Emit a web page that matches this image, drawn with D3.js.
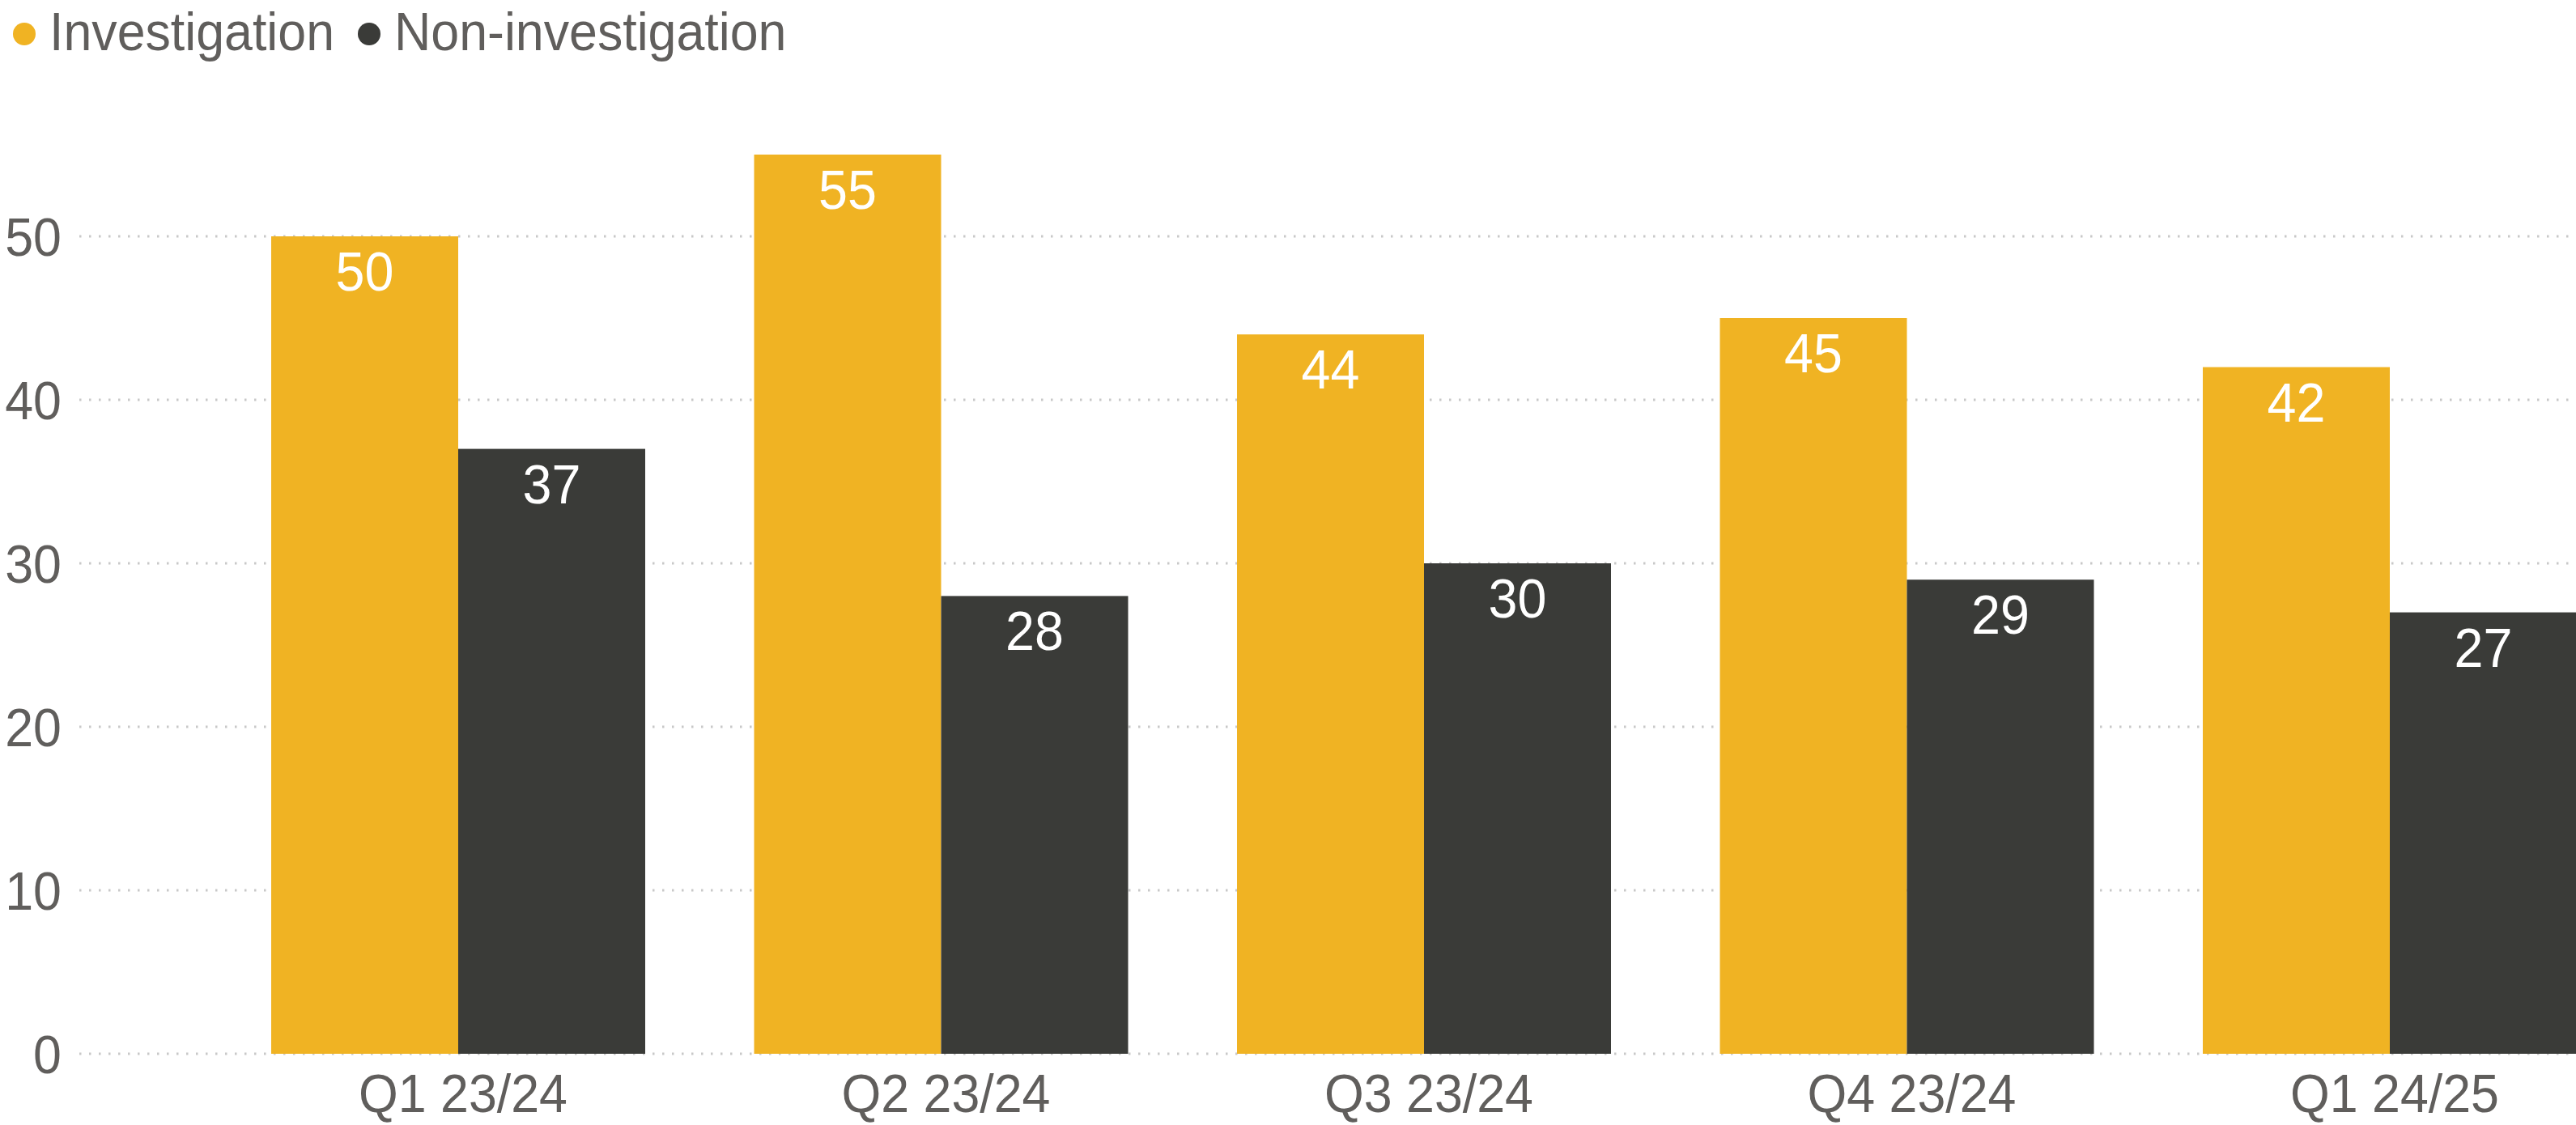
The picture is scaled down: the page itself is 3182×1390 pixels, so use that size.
<!doctype html>
<html lang="en">
<head>
  <meta charset="UTF-8">
  <title>Investigation vs Non-investigation</title>
  <style>
    body { margin: 0; background: #fff; }
    svg { display: block; font-family: "Liberation Sans", Arial, sans-serif; }
  </style>
</head>
<body>
<div id="app"></div>
<script src="https://cdn.jsdelivr.net/npm/d3@7/dist/d3.min.js"></script>
<script>
  var quarters = ['Q1 23/24', 'Q2 23/24', 'Q3 23/24', 'Q4 23/24', 'Q1 24/25'];
  var investigation = [50, 55, 44, 45, 42];
  var nonInvestigation = [37, 28, 30, 29, 27];
  var seriesNames = ['Investigation', 'Non-investigation'];
  var seriesColors = ['#f0b323', '#3a3b38'];
  var yTicks = [0, 10, 20, 30, 40, 50];

  var width = 3182;
  var height = 1390;
  var textColor = '#605e5c';

  var rows = quarters.map(function(q, i) {
    return { q: q, values: [investigation[i], nonInvestigation[i]] };
  });

  var svg = d3.select('#app')
              .append('svg')
              .attr('width', width)
              .attr('height', height);

  var x = d3.scaleBand()
    .domain(quarters)
    .range([335, 3183])
    .paddingInner(0.2255)
    .paddingOuter(0);

  var x1 = d3.scaleBand()
    .domain(seriesNames)
    .range([0, x.bandwidth()]);

  var y = d3.scaleLinear()
    .domain([0, 60])
    .range([1302, 90]);

  // grid lines
  svg.selectAll('line.grid')
    .data(yTicks)
    .enter()
    .append('line')
    .attr('class', 'grid')
    .attr('x1', 98)
    .attr('x2', width)
    .attr('y1', d => y(d))
    .attr('y2', d => y(d))
    .attr('stroke', '#c8c8c8')
    .attr('stroke-width', 3)
    .attr('stroke-dasharray', '2.5 9.5');

  // y axis
  var yAxis = svg.append('g')
    .attr('transform', 'translate(76,0)')
    .call(d3.axisLeft(y).tickValues(yTicks).tickSize(0).tickPadding(0));
  yAxis.select('.domain').remove();
  yAxis.selectAll('text')
    .attr('font-size', 66)
    .attr('font-family', '"Liberation Sans", Arial, sans-serif')
    .attr('fill', textColor)
    .attr('dy', '0.35em');

  // x axis
  var xAxis = svg.append('g')
    .attr('transform', 'translate(6,' + y(0) + ')')
    .call(d3.axisBottom(x).tickSize(0).tickPadding(0));
  xAxis.select('.domain').remove();
  xAxis.selectAll('text')
    .attr('font-size', 66)
    .attr('font-family', '"Liberation Sans", Arial, sans-serif')
    .attr('fill', textColor)
    .attr('dy', null)
    .attr('y', 72);

  // bars
  var groups = svg.selectAll('g.group')
    .data(rows)
    .enter()
    .append('g')
    .attr('class', 'group')
    .attr('transform', d => 'translate(' + x(d.q) + ',0)');

  var cells = groups.selectAll('g.cell')
    .data(d => d.values.map((v, i) => ({ name: seriesNames[i], v: v, i: i })))
    .enter()
    .append('g')
    .attr('class', 'cell');

  cells.append('rect')
    .attr('x', d => x1(d.name))
    .attr('y', d => y(d.v))
    .attr('width', x1.bandwidth())
    .attr('height', d => y(0) - y(d.v))
    .attr('fill', d => seriesColors[d.i]);

  cells.append('text')
    .attr('x', d => x1(d.name) + x1.bandwidth() / 2)
    .attr('y', d => y(d.v) + 67)
    .attr('text-anchor', 'middle')
    .attr('font-size', 68)
    .attr('fill', '#fff')
    .text(d => d.v);

  // legend
  var legendX = [30, 456];
  var legend = svg.selectAll('g.legend')
    .data(seriesNames)
    .enter()
    .append('g')
    .attr('class', 'legend')
    .attr('transform', (d, i) => 'translate(' + legendX[i] + ',42)');

  legend.append('circle')
    .attr('r', 14)
    .attr('fill', (d, i) => seriesColors[i]);

  legend.append('text')
    .attr('x', 31)
    .attr('y', 20)
    .attr('font-size', 66)
    .attr('fill', textColor)
    .text(d => d);

  // the source font is a bit narrower than Liberation Sans
  svg.selectAll('text').each(function() {
    var len = this.getComputedTextLength();
    d3.select(this)
      .attr('textLength', len * 0.95)
      .attr('lengthAdjust', 'spacingAndGlyphs');
  });
</script>
</body>
</html>
